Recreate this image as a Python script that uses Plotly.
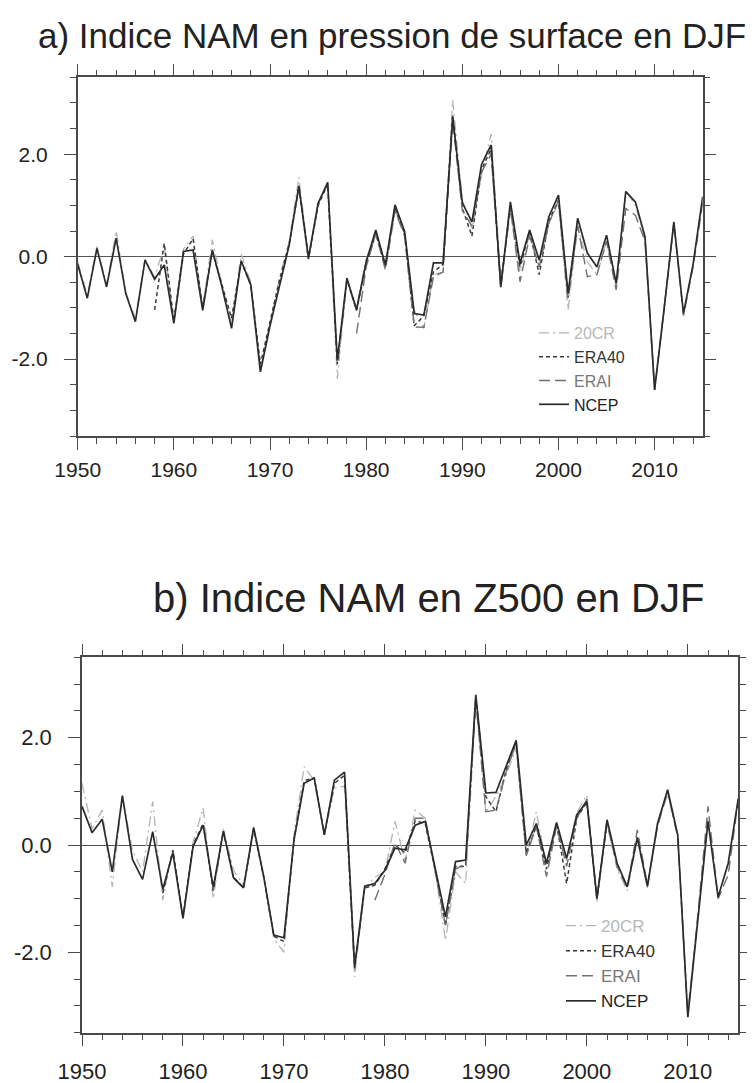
import plotly.graph_objects as go

# années
years = list(range(1950, 2016))
years_20cr = list(range(1950, 2013))
years_era40 = list(range(1958, 2003))
years_erai = list(range(1979, 2016))

# a) NAM en pression de surface (DJF)
ncep_slp = [-0.15, -0.81, 0.16, -0.59, 0.36, -0.72, -1.27, -0.07, -0.44, -0.16,
            -1.30, 0.10, 0.13, -1.05, 0.13, -0.59, -1.40, -0.08, -0.55, -2.25,
            -1.35, -0.55, 0.23, 1.38, -0.03, 1.04, 1.45, -2.03, -0.42, -1.04,
            -0.10, 0.52, -0.16, 1.01, 0.49, -1.11, -1.14, -0.12, -0.12, 2.73,
            1.05, 0.68, 1.80, 2.18, -0.59, 1.07, -0.13, 0.52, -0.07, 0.78,
            1.20, -0.72, 0.75, 0.07, -0.20, 0.42, -0.52, 1.27, 1.07, 0.39,
            -2.60, -1.00, 0.68, -1.11, -0.15, 1.17]
c20cr_slp = [-0.10, -0.75, 0.20, -0.55, 0.50, -0.70, -1.20, -0.05, -0.40, 0.20,
             -1.25, 0.15, 0.40, -1.00, 0.33, -0.55, -1.30, 0.05, -0.50, -2.20,
             -1.30, -0.40, 0.30, 1.55, 0.00, 1.00, 1.40, -2.38, -0.45, -1.00,
             -0.05, 0.45, -0.20, 0.90, 0.45, -1.05, -1.40, -0.35, -0.30, 3.05,
             1.10, 0.55, 1.60, 2.40, -0.50, 0.90, -0.30, 0.45, -0.20, 0.65,
             1.05, -1.04, 0.60, -0.10, -0.35, 0.30, -0.60, 1.30, 1.00, 0.35,
             -2.55, -1.00, 0.65]
era40_slp = [-1.04, 0.26, -1.25, 0.05, 0.35, -1.00, 0.10, -0.55, -1.20, -0.10,
             -0.55, -2.10, -1.30, -0.45, 0.25, 1.35, -0.05, 1.00, 1.42, -2.10,
             -0.45, -1.05, -0.15, 0.45, -0.20, 0.95, 0.45, -1.35, -1.15, -0.30,
             -0.15, 2.75, 0.95, 0.40, 1.70, 2.10, -0.55, 1.00, -0.20, 0.50,
             -0.35, 0.70, 1.10, -0.80, 0.70]
erai_slp = [-1.50, -0.20, 0.45, -0.26, 0.90, 0.40, -1.37, -1.38, -0.39, -0.30,
            2.65, 0.90, 0.60, 1.65, 2.00, -0.60, 0.95, -0.49, 0.40, -0.20,
            0.65, 1.10, -0.80, 0.60, -0.39, -0.35, 0.30, -0.65, 0.94, 0.81,
            0.30, -2.60, -1.00, 0.65, -1.15, -0.20, 1.05]

# b) NAM en Z500 (DJF)
ncep_z500 = [0.72, 0.23, 0.48, -0.50, 0.92, -0.27, -0.64, 0.25, -0.83, -0.14,
             -1.37, -0.03, 0.37, -0.79, 0.26, -0.61, -0.80, 0.33, -0.59, -1.68,
             -1.73, 0.10, 1.15, 1.25, 0.19, 1.21, 1.36, -2.27, -0.77, -0.72,
             -0.47, -0.06, -0.09, 0.37, 0.44, -0.47, -1.34, -0.31, -0.28, 2.80,
             0.97, 0.98, 1.46, 1.95, 0.00, 0.40, -0.34, 0.42, -0.25, 0.56,
             0.81, -1.00, 0.47, -0.34, -0.78, 0.14, -0.77, 0.40, 1.03, 0.19,
             -3.21, -1.35, 0.44, -0.97, -0.34, 0.87]
c20cr_z500 = [1.15, 0.30, 0.65, -0.78, 0.90, -0.10, -0.50, 0.81, -1.03, -0.05,
              -1.35, 0.05, 0.69, -1.00, 0.30, -0.47, -0.75, 0.30, -0.60, -1.75,
              -2.00, 0.20, 1.46, 1.20, 0.20, 1.06, 1.10, -2.46, -0.80, -0.60,
              -0.50, 0.44, -0.30, 0.65, 0.50, -0.50, -1.78, -0.50, -0.72, 2.70,
              0.62, 0.90, 1.30, 1.80, -0.20, 0.62, -0.40, 0.35, -0.30, 0.60,
              0.93, -1.05, 0.40, -0.45, -0.85, 0.10, -0.80, 0.35, 0.95, 0.15,
              -3.10, -1.30, 0.50]
era40_z500 = [-0.90, -0.10, -1.35, 0.00, 0.40, -0.85, 0.25, -0.60, -0.80, 0.30,
              -0.60, -1.70, -1.80, 0.10, 1.20, 1.25, 0.20, 1.15, 1.30, -2.30,
              -0.80, -0.75, -0.45, 0.00, -0.15, 0.45, 0.40, -0.50, -1.50, -0.40,
              -0.40, 2.75, 0.90, 0.62, 1.40, 1.90, -0.15, 0.35, -0.45, 0.40,
              -0.72, 0.50, 0.80, -1.00, 0.45]
erai_z500 = [-1.03, -0.55, 0.05, -0.34, 0.50, 0.50, -0.50, -1.50, -0.45, -0.35,
             2.70, 0.62, 0.65, 1.35, 1.90, -0.20, 0.35, -0.59, 0.35, -0.40,
             0.50, 0.85, -1.00, 0.40, -0.40, -0.80, 0.28, -0.75, 0.35, 1.00,
             0.15, -3.20, -1.30, 0.72, -1.00, -0.56, 0.85]

x_ticks = [1950, 1960, 1970, 1980, 1990, 2000, 2010]
y_ticks = [-2.0, 0.0, 2.0]
y_tick_labels = ["-2.0", "0.0", "2.0"]

titles = ["a) Indice NAM en pression de surface en DJF",
          "b) Indice NAM en Z500 en DJF"]

styles = {
    "20CR": dict(color="#b4b4b4", dash="10px,4px,2px,4px", width=1.3),
    "ERA40": dict(color="#3a3a3a", dash="4px,3px", width=1.5),
    "ERAI": dict(color="#707070", dash="11px,5px", width=1.4),
    "NCEP": dict(color="#2b2b2b", dash="solid", width=1.7),
}
label_colors = {"20CR": "#b8b8b8", "ERA40": "#333333", "ERAI": "#777777", "NCEP": "#222222"}

fig = go.Figure()

panels = [
    ("x", "y", "legend", [("20CR", years_20cr, c20cr_slp), ("ERA40", years_era40, era40_slp),
                         ("ERAI", years_erai, erai_slp), ("NCEP", years, ncep_slp)]),
    ("x2", "y2", "legend2", [("20CR", years_20cr, c20cr_z500), ("ERA40", years_era40, era40_z500),
                            ("ERAI", years_erai, erai_z500), ("NCEP", years, ncep_z500)]),
]
for xa, ya, leg, series in panels:
    for name, xs, vals in series:
        fig.add_trace(go.Scatter(
            x=xs, y=vals, mode="lines", xaxis=xa, yaxis=ya, legend=leg,
            name="<span style='color:%s'>%s</span>" % (label_colors[name], name),
            line=styles[name],
        ))

axis_col = "#4a4a4a"
def xaxis_style(dom, anchor, fsize, standoff):
    return dict(domain=dom, anchor=anchor, range=[1950, 2015], tickvals=x_ticks,
                ticks="outside", ticklen=12, tickwidth=1.3, tickcolor=axis_col,
                showline=True, linecolor=axis_col, linewidth=1.5, mirror="ticks",
                showgrid=False, zeroline=False, ticklabelstandoff=standoff,
                automargin=False,
                minor=dict(dtick=2, tick0=1950, ticks="outside", ticklen=6,
                           tickwidth=1, tickcolor=axis_col, showgrid=False),
                tickfont=dict(size=fsize, color="#222222", family="Liberation Sans"))

def yaxis_style(dom, anchor, fsize):
    return dict(domain=dom, anchor=anchor, range=[-3.5, 3.5], tickvals=y_ticks,
                ticktext=y_tick_labels,
                ticks="outside", ticklen=12, tickwidth=1.3, tickcolor=axis_col,
                showline=True, linecolor=axis_col, linewidth=1.5, mirror="ticks",
                showgrid=False, zeroline=True, zerolinecolor="#555555", zerolinewidth=1.3,
                ticklabelstandoff=12, automargin=False,
                minor=dict(dtick=0.5, tick0=0, ticks="outside", ticklen=6,
                           tickwidth=1, tickcolor=axis_col, showgrid=False),
                tickfont=dict(size=fsize, color="#222222", family="Liberation Sans"))

# the page puts the figure 8 px from the top-left corner of the window
OFF = 8
W, H = 755 - OFF, 1083 - OFF
def px(v):
    return (v - OFF) / W
def py(v):
    return 1 - (v - OFF) / H

fig.update_layout(
    width=W, height=H,
    margin=dict(l=0, r=0, t=0, b=0, autoexpand=False),
    paper_bgcolor="white", plot_bgcolor="white",
    font=dict(family="Liberation Sans", color="#222222"),
    xaxis=xaxis_style([px(77.7), px(702.7)], "y", 21, 2),
    yaxis=yaxis_style([py(436), py(77.3)], "x", 21),
    xaxis2=xaxis_style([px(82), px(738.3)], "y2", 22, 6),
    yaxis2=yaxis_style([py(1032.7), py(657.3)], "x2", 22),
    legend=dict(x=px(534), y=py(316), xanchor="left", yanchor="top",
                bgcolor="rgba(255,255,255,0)", font=dict(size=16), itemwidth=30),
    legend2=dict(x=px(561), y=py(908), xanchor="left", yanchor="top",
                 bgcolor="rgba(255,255,255,0)", font=dict(size=17), itemwidth=30),
    annotations=[
        dict(text=titles[0], x=px(392), y=py(36), xref="paper", yref="paper",
             xanchor="center", yanchor="middle",
             showarrow=False, font=dict(size=35, color="#222222")),
        dict(text=titles[1], x=px(428), y=py(598), xref="paper", yref="paper",
             xanchor="center", yanchor="middle",
             showarrow=False, font=dict(size=40, color="#222222")),
    ],
)

fig.write_html("out.html")
